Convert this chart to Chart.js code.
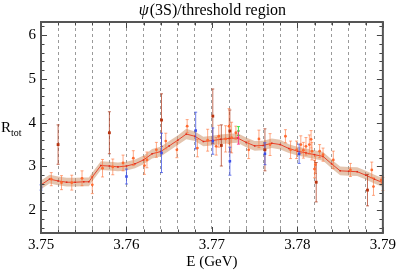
<!DOCTYPE html>
<html>
<head>
<meta charset="utf-8">
<script src="https://cdn.jsdelivr.net/npm/chart.js@4.4.1/dist/chart.umd.min.js"></script>
<style>
  html, body { margin: 0; padding: 0; background: #fff; }
  #wrap { width: 399px; height: 272px; }
</style>
</head>
<body>
<div id="wrap"><canvas id="rchart" width="399" height="272"></canvas></div>
<script>
// fit curve (centre line + band half width)
const fitE = [3.750, 3.751, 3.752, 3.753, 3.754, 3.755, 3.7556, 3.756, 3.757, 3.758, 3.759, 3.760,
  3.761, 3.762, 3.763, 3.764, 3.765, 3.766, 3.767, 3.768, 3.769, 3.770, 3.771, 3.772, 3.773,
  3.774, 3.775, 3.776, 3.777, 3.778, 3.779, 3.780, 3.781, 3.782, 3.783, 3.784, 3.785, 3.786,
  3.787, 3.788, 3.789, 3.790];
const fitR = [2.58, 2.71, 2.67, 2.64, 2.64, 2.65, 2.65, 2.76, 3.02, 3.01, 2.99, 3.01,
  3.06, 3.15, 3.29, 3.34, 3.47, 3.60, 3.74, 3.69, 3.57, 3.59, 3.62, 3.64, 3.65,
  3.55, 3.47, 3.48, 3.53, 3.50, 3.41, 3.35, 3.31, 3.27, 3.23, 3.06, 2.90, 2.89,
  2.88, 2.80, 2.71, 2.63];
const fitBand = [0.10, 0.10, 0.10, 0.10, 0.10, 0.10, 0.10, 0.10, 0.10, 0.10, 0.10, 0.10,
  0.10, 0.10, 0.11, 0.11, 0.11, 0.11, 0.12, 0.11, 0.11, 0.11, 0.11, 0.11, 0.11,
  0.11, 0.11, 0.11, 0.11, 0.11, 0.10, 0.10, 0.10, 0.10, 0.10, 0.10, 0.10, 0.10,
  0.10, 0.10, 0.10, 0.10];

// measurements
const orangeE = [3.7512, 3.7524, 3.7536, 3.7548, 3.7560, 3.7572, 3.7584, 3.7596, 3.7608, 3.7621,
  3.7624, 3.7635, 3.7646, 3.7659, 3.7671, 3.7683, 3.7695, 3.7705, 3.7708, 3.7716, 3.7720, 3.7723,
  3.7728, 3.7743, 3.7755, 3.7768, 3.7786, 3.7792, 3.7799, 3.7804, 3.7807, 3.7810, 3.7814, 3.7816,
  3.7817, 3.7820, 3.7821, 3.7826, 3.7830, 3.7842, 3.7862, 3.7887, 3.7889, 3.7898, 3.7900];
const orangeR = [2.71, 2.63, 2.63, 2.73, 2.58, 2.96, 2.99, 3.08, 3.19, 3.02,
  3.15, 3.38, 3.58, 3.38, 3.92, 3.42, 3.60, 3.46, 3.69, 3.63, 3.92, 3.66,
  3.77, 3.38, 3.63, 3.50, 3.69, 3.38, 3.38, 3.50, 3.37, 3.46, 3.50, 3.62,
  3.35, 2.94, 3.04, 3.35, 3.27, 3.15, 2.92, 2.92, 2.54, 2.69, 2.60];
const orangeErr = [0.15, 0.16, 0.17, 0.17, 0.20, 0.20, 0.18, 0.18, 0.17, 0.20,
  0.18, 0.17, 0.18, 0.18, 0.15, 0.20, 0.25, 0.20, 0.25, 0.30, 0.40, 0.35,
  0.15, 0.20, 0.20, 0.25, 0.15, 0.20, 0.20, 0.20, 0.18, 0.20, 0.22, 0.20,
  0.20, 0.20, 0.20, 0.15, 0.15, 0.20, 0.15, 0.18, 0.20, 0.10, 0.15];

const darkE = [3.7520, 3.7580, 3.7641, 3.7701, 3.7711, 3.7721, 3.7762, 3.7822, 3.7882];
const darkR = [3.50, 3.77, 4.06, 4.15, 3.48, 3.81, 3.38, 2.64, 2.46];
const darkErr = [0.45, 0.48, 0.60, 0.62, 0.47, 0.48, 0.48, 0.45, 0.36];

const blueE = [3.7500, 3.7600, 3.7641, 3.7681, 3.7701, 3.7721, 3.7762, 3.7802];
const blueR = [2.52, 2.77, 3.31, 3.82, 3.58, 3.12, 3.29, 3.29];
const blueErr = [0.06, 0.17, 0.45, 0.42, 0.30, 0.32, 0.25, 0.22];

const greenE = [3.7731];
const greenR = [3.81];
const greenErr = [0.10];

const pinkE = [3.7731];
const pinkR = [3.66];
const pinkErr = [0.15];

const xMajor = [3.75, 3.76, 3.77, 3.78, 3.79];
const yMajor = [2, 3, 4, 5, 6];

const serif = '"Liberation Serif", "DejaVu Serif", serif';

function pts(xs, ys) { return xs.map((x, i) => ({x: x, y: ys[i]})); }

const measSets = [
  {label: 'orange', xs: orangeE, ys: orangeR, err: orangeErr, color: '#ff6a30', bar: 'rgba(255,110,50,0.6)', style: 'circle', r: 1.4},
  {label: 'dark', xs: darkE, ys: darkR, err: darkErr, color: '#b8320e', bar: 'rgba(170,50,20,0.7)', style: 'rect', r: 2},
  {label: 'blue', xs: blueE, ys: blueR, err: blueErr, color: '#3a4ee8', bar: 'rgba(60,80,230,0.75)', style: 'rect', r: 1.8},
  {label: 'green', xs: greenE, ys: greenR, err: greenErr, color: '#30e040', bar: 'rgba(40,230,60,0.9)', style: 'rect', r: 1.2},
  {label: 'pink', xs: pinkE, ys: pinkR, err: pinkErr, color: '#ff3080', bar: 'rgba(255,50,130,0.9)', style: 'rect', r: 1.2}
];

const datasets = measSets.map(s => ({
  label: s.label,
  type: 'scatter',
  data: pts(s.xs, s.ys),
  pointStyle: s.style,
  pointRadius: s.r,
  backgroundColor: s.color,
  borderColor: s.color,
  borderWidth: 0,
  showLine: false
}));

datasets.push({
  label: 'fit',
  type: 'line',
  data: pts(fitE, fitR),
  borderColor: '#e8442a',
  borderWidth: 1,
  pointStyle: 'rect',
  pointRadius: 1.1,
  pointBackgroundColor: '#e02818',
  pointBorderWidth: 0,
  tension: 0,
  fill: false
});
const fitIndex = datasets.length - 1;

datasets.push({
  label: 'bandHi',
  type: 'line',
  data: pts(fitE, fitR.map((v, i) => v + fitBand[i])),
  borderWidth: 0,
  pointRadius: 0,
  backgroundColor: 'rgba(205,150,110,0.55)',
  fill: '+1',
  tension: 0
});
datasets.push({
  label: 'bandLo',
  type: 'line',
  data: pts(fitE, fitR.map((v, i) => v - fitBand[i])),
  borderWidth: 0,
  pointRadius: 0,
  fill: false,
  tension: 0
});

// error bars, ticks, frame and texts
const decor = {
  id: 'decor',
  afterDatasetDraw(chart, args) {
    if (args.index !== fitIndex) return;
    const c = chart.ctx, xs = chart.scales.x, ys = chart.scales.y;
    c.save();
    measSets.forEach(s => {
      c.strokeStyle = s.bar;
      c.lineWidth = 1;
      s.xs.forEach((e, i) => {
        const px = xs.getPixelForValue(e);
        const y1 = ys.getPixelForValue(s.ys[i] + s.err[i]);
        const y2 = ys.getPixelForValue(s.ys[i] - s.err[i]);
        c.beginPath();
        c.moveTo(px, y1); c.lineTo(px, y2);
        c.moveTo(px - 1.5, y1); c.lineTo(px + 1.5, y1);
        c.moveTo(px - 1.5, y2); c.lineTo(px + 1.5, y2);
        c.stroke();
      });
    });
    c.restore();
  },
  afterDraw(chart) {
    const c = chart.ctx, a = chart.chartArea, xs = chart.scales.x, ys = chart.scales.y;
    c.save();
    c.strokeStyle = '#444';
    c.lineWidth = 1;
    // x ticks, every 0.002, long at the majors
    for (let k = 0; k <= 20; k++) {
      const v = 3.75 + k * 0.002;
      const px = Math.round(xs.getPixelForValue(v)) + 0.5;
      const len = (k % 5 === 0) ? 6 : 3.5;
      c.beginPath();
      c.moveTo(px, a.bottom); c.lineTo(px, a.bottom - len);
      c.moveTo(px, a.top); c.lineTo(px, a.top + len);
      c.stroke();
    }
    // y ticks, every 0.2
    for (let k = 8; k <= 31; k++) {
      const v = k * 0.2;
      const py = Math.round(ys.getPixelForValue(v)) + 0.5;
      const len = (k % 5 === 0) ? 6 : 3.5;
      c.beginPath();
      c.moveTo(a.left, py); c.lineTo(a.left + len, py);
      c.moveTo(a.right, py); c.lineTo(a.right - len, py);
      c.stroke();
    }
    c.lineWidth = 2;
    c.strokeStyle = '#555';
    c.strokeRect(a.left, a.top, a.right - a.left, a.bottom - a.top);

    c.fillStyle = '#000';
    // title
    c.textBaseline = 'alphabetic';
    c.textAlign = 'left';
    const cx = (a.left + a.right) / 2;
    c.font = 'italic 16px ' + serif;
    const w1 = c.measureText('ψ').width;
    c.font = '16px ' + serif;
    const rest = '(3S)/threshold region';
    const w2 = c.measureText(rest).width;
    let tx = cx - (w1 + w2) / 2;
    c.font = 'italic 16px ' + serif;
    c.fillText('ψ', tx, 15);
    c.font = '16px ' + serif;
    c.fillText(rest, tx + w1 + 1, 15);

    // x label
    c.font = '15px ' + serif;
    c.textAlign = 'center';
    c.fillText('E (GeV)', cx, 266);

    // y label
    c.textAlign = 'left';
    c.font = '15px ' + serif;
    c.fillText('R', 1, 132);
    const rw = c.measureText('R').width;
    c.font = '10px ' + serif;
    c.fillText('tot', 1 + rw, 136);
    c.restore();
  }
};

const ctx = document.getElementById('rchart').getContext('2d');
const rChart = new Chart(ctx, {
  type: 'scatter',
  data: {datasets: datasets},
  options: {
    responsive: false,
    animation: false,
    layout: {padding: {top: 22, right: 16, left: 0, bottom: 0}},
    plugins: {legend: {display: false}, tooltip: {enabled: false}},
    scales: {
      x: {
        type: 'linear',
        min: 3.75,
        max: 3.79,
        afterFit(s) { s.height = 39; },
        afterBuildTicks(s) { s.ticks = [...Array(21).keys()].map(k => ({value: 3.75 + k * 0.002})); },
        ticks: {
          autoSkip: false,
          maxRotation: 0,
          padding: 3,
          color: '#000',
          font: {family: serif, size: 15},
          callback(v) {
            const m = xMajor.find(t => Math.abs(t - v) < 1e-7);
            return m === undefined ? '' : m.toFixed(2);
          }
        },
        grid: {color: '#9a9a9a', lineWidth: 1, drawTicks: false},
        border: {display: false, dash: [3, 3]}
      },
      y: {
        type: 'linear',
        min: 1.48,
        max: 6.3,
        afterFit(s) { s.width = 41; },
        afterBuildTicks(s) { s.ticks = yMajor.map(v => ({value: v})); },
        ticks: {
          padding: 5,
          color: '#000',
          font: {family: serif, size: 15},
          callback(v) { return String(v); }
        },
        grid: {display: false, drawTicks: false},
        border: {display: false}
      }
    }
  },
  plugins: [decor]
});
</script>
</body>
</html>
